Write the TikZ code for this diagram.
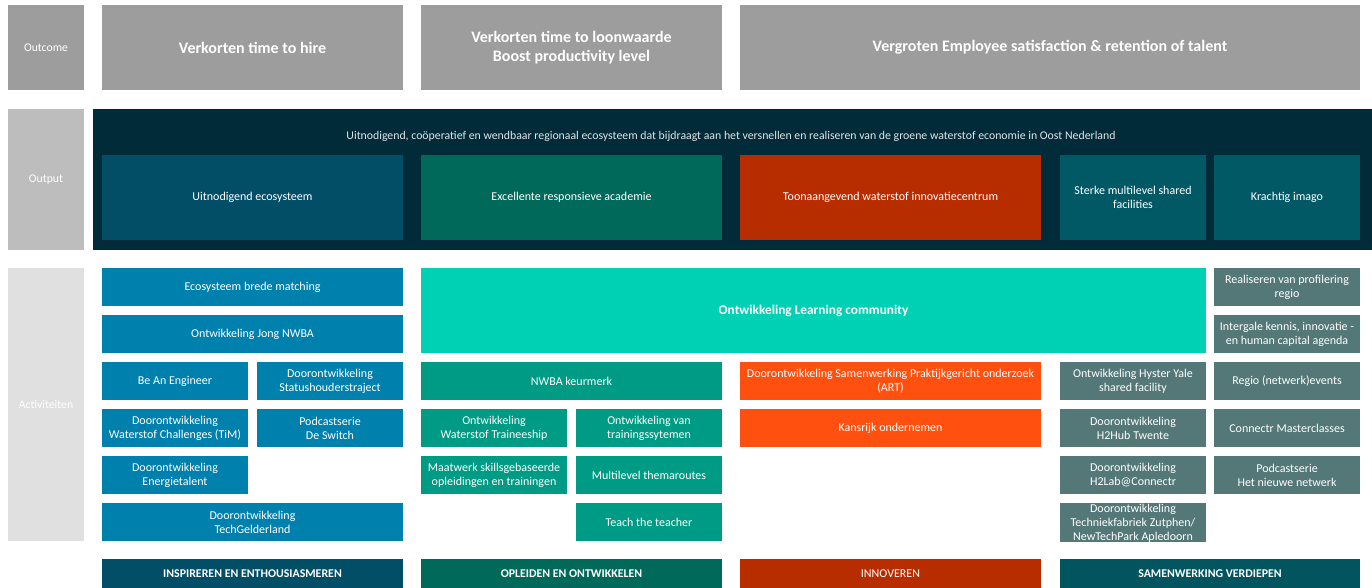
\documentclass[tikz,border=0pt]{standalone}
\usepackage{fontspec}
\setmainfont{Carlito}

\definecolor{outgray}{HTML}{9D9D9D}
\definecolor{labgray}{HTML}{BDBDBD}
\definecolor{actgray}{HTML}{E0E0E0}
\definecolor{navy}{HTML}{022B3A}
\definecolor{blueA}{HTML}{0080AD}
\definecolor{blueD}{HTML}{024E67}
\definecolor{greenA}{HTML}{009B84}
\definecolor{greenD}{HTML}{00695A}
\definecolor{orangeA}{HTML}{FF500F}
\definecolor{redD}{HTML}{B82D00}
\definecolor{tealA}{HTML}{547778}
\definecolor{tealD}{HTML}{025966}
\definecolor{tealF}{HTML}{02555F}
\definecolor{mint}{HTML}{00D0B4}

\tikzset{
  cell/.style={rectangle, anchor=north west, inner sep=1pt, outer sep=0pt, align=center, text=white, font=\fontsize{9}{10.5}\selectfont},
  wide/.style={cell, minimum width=225.75pt, minimum height=28.5pt},
  half/.style={cell, minimum width=109.5pt, minimum height=28.5pt},
  lab/.style={cell, minimum width=57pt, font=\fontsize{8.8}{10}\selectfont},
  outc/.style={cell, fill=outgray, minimum height=63.75pt, font=\bfseries\fontsize{12}{14.5}\selectfont},
  tall/.style={cell, minimum height=63.75pt},
  foot/.style={cell, minimum height=22.5pt, font=\bfseries\fontsize{8.9}{10}\selectfont},
}

\begin{document}
\begin{tikzpicture}[x=0.75pt,y=-0.75pt]
\useasboundingbox (0,0) rectangle (1372,587);

% Outcome
\node[lab, fill=outgray, minimum height=63.75pt] (outcome) at (8,5) {Outcome};
\node[outc, minimum width=225.75pt] (hire) at (102,5) {Verkorten time to hire};
\node[outc, minimum width=225.75pt] (loon) at (421,5) {Verkorten time to loonwaarde\\Boost productivity level};
\node[outc, minimum width=465pt] (retention) at (740,5) {Vergroten Employee satisfaction \& retention of talent};

% Output
\node[lab, fill=labgray, minimum height=105.75pt] (output) at (8,109) {Output};
\node[cell, fill=navy, minimum width=959.25pt, minimum height=105.75pt] (ecobg) at (93,109) {};
\node[cell, anchor=center, text=white!88!navy, font=\fontsize{8.85}{10}\selectfont] (ecotitle) at (731,136) {Uitnodigend, coöperatief en wendbaar regionaal ecosysteem dat bijdraagt aan het versnellen en realiseren van de groene waterstof economie in Oost Nederland};
\node[tall, fill=blueD, minimum width=225.75pt] (oeco) at (102,155) {Uitnodigend ecosysteem};
\node[tall, fill=greenD, minimum width=225.75pt] (oacad) at (421,155) {Excellente responsieve academie};
\node[tall, fill=redD, minimum width=225.75pt] (oinno) at (740,155) {Toonaangevend waterstof innovatiecentrum};
\node[tall, fill=tealD, minimum width=109.5pt] (ofac) at (1060,155) {Sterke multilevel shared\\facilities};
\node[tall, fill=tealD, minimum width=109.5pt] (oimago) at (1214,155) {Krachtig imago};

% Activiteiten
\node[lab, fill=actgray, minimum height=204.75pt] (activ) at (8,268) {Activiteiten};

% inspireren
\node[wide, fill=blueA] (matching) at (102,268) {Ecosysteem brede matching};
\node[wide, fill=blueA] (jong) at (102,315) {Ontwikkeling Jong NWBA};
\node[half, fill=blueA] (engineer) at (102,362) {Be An Engineer};
\node[half, fill=blueA] (status) at (257,362) {Doorontwikkeling\\Statushouderstraject};
\node[half, fill=blueA] (tim) at (102,409) {Doorontwikkeling\\Waterstof Challenges (TiM)};
\node[half, fill=blueA] (switch) at (257,409) {Podcastserie\\De Switch};
\node[half, fill=blueA] (energie) at (102,456) {Doorontwikkeling\\Energietalent};
\node[wide, fill=blueA] (techgld) at (102,503) {Doorontwikkeling\\TechGelderland};

% opleiden
\node[cell, fill=mint, minimum width=588.75pt, minimum height=63.75pt, font=\bfseries\fontsize{10}{12}\selectfont] (learning) at (421,268) {Ontwikkeling Learning community};
\node[wide, fill=greenA] (keurmerk) at (421,362) {NWBA keurmerk};
\node[half, fill=greenA] (trainee) at (421,409) {Ontwikkeling\\Waterstof Traineeship};
\node[half, fill=greenA] (systemen) at (576,409) {Ontwikkeling van\\trainingssytemen};
\node[half, fill=greenA] (maatwerk) at (421,456) {Maatwerk skillsgebaseerde\\opleidingen en trainingen};
\node[half, fill=greenA] (routes) at (576,456) {Multilevel themaroutes};
\node[half, fill=greenA] (teach) at (576,503) {Teach the teacher};

% innoveren
\node[wide, fill=orangeA] (art) at (740,362) {Doorontwikkeling Samenwerking Praktijkgericht onderzoek\\(ART)};
\node[wide, fill=orangeA] (kansrijk) at (740,409) {Kansrijk ondernemen};

% samenwerking
\node[half, fill=tealA] (profiel) at (1214,268) {Realiseren van profilering\\regio};
\node[half, fill=tealA] (agenda) at (1214,315) {Intergale kennis, innovatie -\\en human capital agenda};
\node[half, fill=tealA] (hyster) at (1060,362) {Ontwikkeling Hyster Yale\\shared facility};
\node[half, fill=tealA] (events) at (1214,362) {Regio (netwerk)events};
\node[half, fill=tealA] (h2hub) at (1060,409) {Doorontwikkeling\\H2Hub Twente};
\node[half, fill=tealA] (master) at (1214,409) {Connectr Masterclasses};
\node[half, fill=tealA] (h2lab) at (1060,456) {Doorontwikkeling\\H2Lab@Connectr};
\node[half, fill=tealA] (podnet) at (1214,456) {Podcastserie\\Het nieuwe netwerk};
\begin{scope}
  \clip (1060,503) rectangle (1206,541);
  \node[half, fill=tealA] (fabriek) at (1060,503) {Doorontwikkeling\\Techniekfabriek Zutphen/\\NewTechPark Apledoorn};
\end{scope}

% pijlers
\node[foot, fill=blueD, minimum width=225.75pt] (inspireren) at (102,559) {INSPIREREN EN ENTHOUSIASMEREN};
\node[foot, fill=greenD, minimum width=225.75pt] (opleiden) at (421,559) {OPLEIDEN EN ONTWIKKELEN};
\node[foot, fill=redD, minimum width=225.75pt, font=\fontsize{9}{10}\selectfont] (innoveren) at (740,559) {INNOVEREN};
\node[foot, fill=tealF, minimum width=225pt] (samenwerken) at (1060,559) {SAMENWERKING VERDIEPEN};

\end{tikzpicture}
\end{document}
